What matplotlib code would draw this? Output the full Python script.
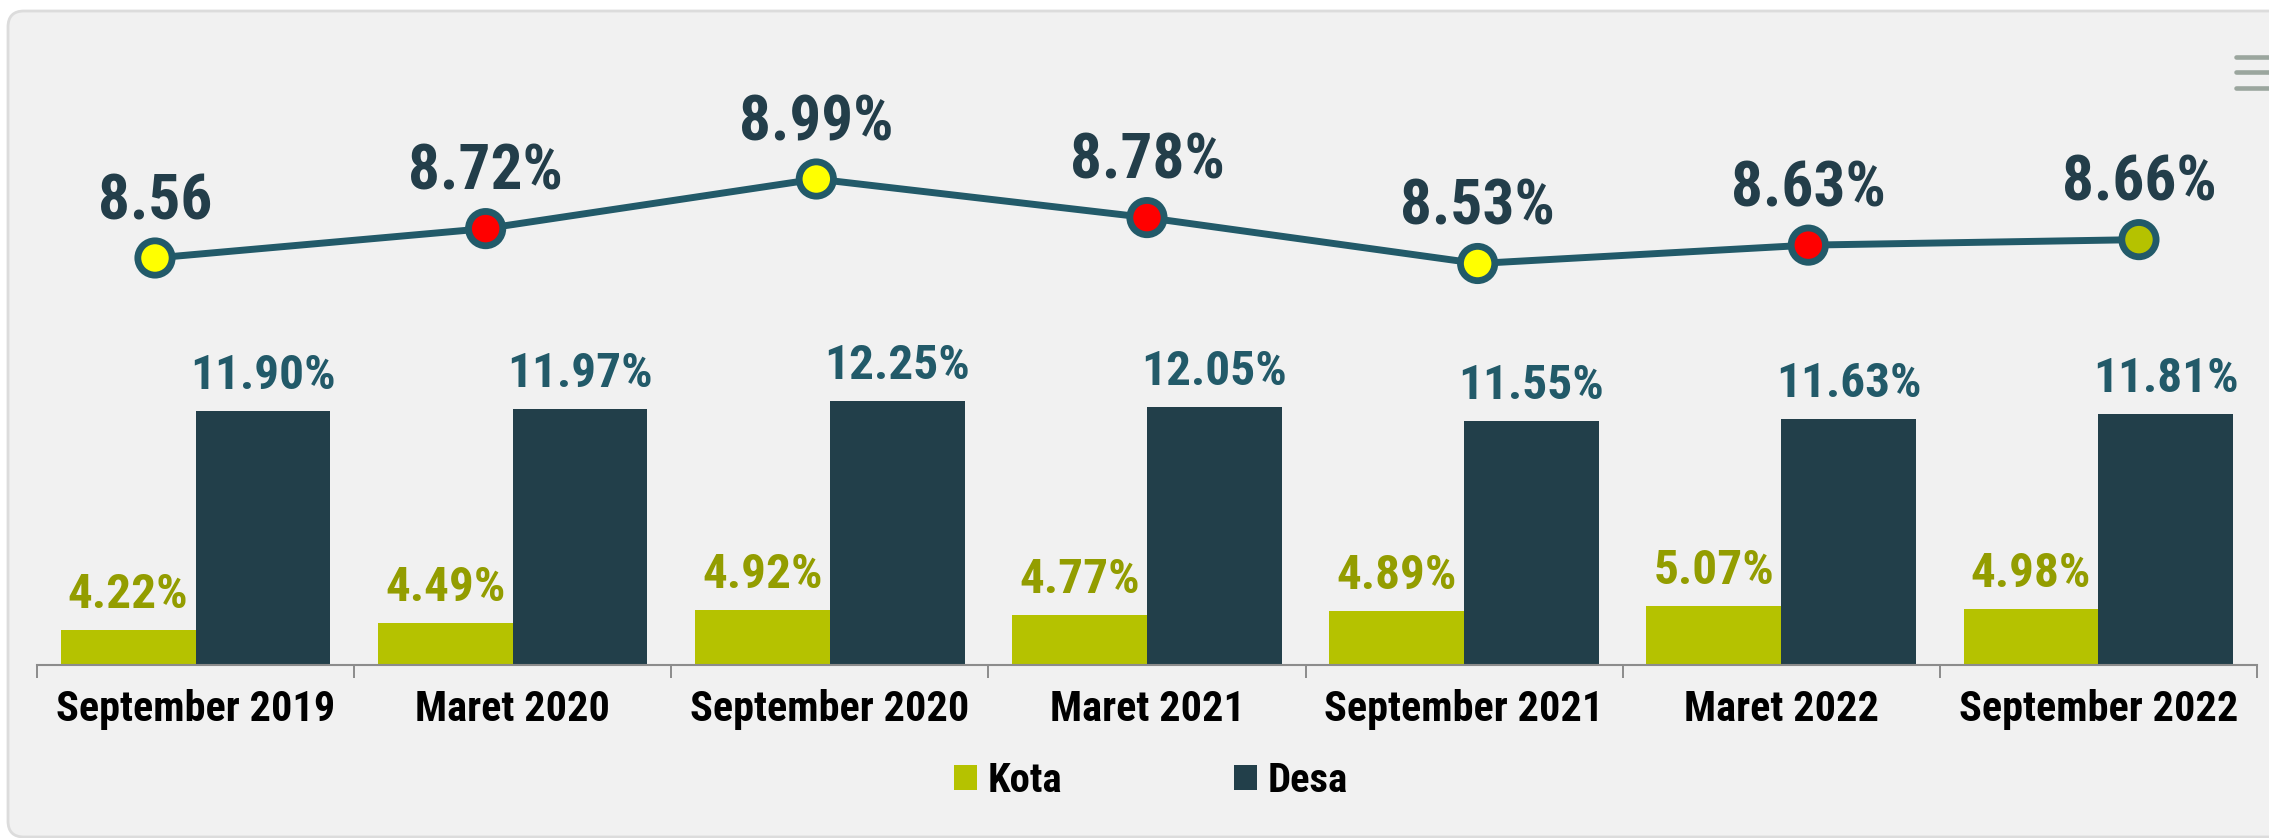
import os
import matplotlib
matplotlib.use("Agg")
import matplotlib.pyplot as plt
import matplotlib.transforms as mtransforms
from matplotlib import font_manager as fm
from matplotlib import ft2font
from matplotlib.patches import FancyBboxPatch, Patch
from matplotlib.lines import Line2D
import numpy as np

# ---- data ----
categories = ["September 2019", "Maret 2020", "September 2020", "Maret 2021",
              "September 2021", "Maret 2022", "September 2022"]
kota = [4.22, 4.49, 4.92, 4.77, 4.89, 5.07, 4.98]
desa = [11.90, 11.97, 12.25, 12.05, 11.55, 11.63, 11.81]
total = [8.56, 8.72, 8.99, 8.78, 8.53, 8.63, 8.66]
total_labels = ["8.56", "8.72%", "8.99%", "8.78%", "8.53%", "8.63%", "8.66%"]
series_names = ["Kota", "Desa"]


# ---- font: prefer a condensed bold sans ----
def pick_font():
    files = sorted({f.fname for f in fm.fontManager.ttflist})
    base = {p: os.path.basename(p).lower() for p in files}
    tests = [
        lambda b: "liberationsansnarrow-bold." in b,
        lambda b: "arialnarrow" in b and "bold" in b and "italic" not in b,
        lambda b: b.startswith("notosans-condensedbold."),
        lambda b: b.startswith("robotocondensed-bold."),
        lambda b: b.startswith("dejavusanscondensed-bold."),
        lambda b: b.startswith("opensans-condensedbold.") or b.startswith("opensanscondensed-bold."),
        lambda b: b.startswith("notosans-semicondensedbold."),
    ]
    for t in tests:
        for p in files:
            if t(base[p]):
                return p, True
    for p in files:
        if base[p] == "liberationsans-bold.ttf":
            return p, False
    return fm.findfont(fm.FontProperties(family="DejaVu Sans", weight="bold")), False


FONT_PATH, CONDENSED = pick_font()
_ft = ft2font.FT2Font(FONT_PATH)
_ft.set_size(1000, 72)
_ft.load_char(ord("H"))
CAP_RATIO = _ft.get_glyph(0).horiBearingY / 64 / 1000 if False else None
try:
    g = _ft.load_char(ord("H"))
    CAP_RATIO = g.horiBearingY / 64.0 / 1000.0
except Exception:
    CAP_RATIO = 0.716
if not (0.5 < CAP_RATIO < 0.85):
    CAP_RATIO = 0.716
SHRINK = 1.0 if CONDENSED else 0.9


def fp(cap_px):
    size_pt = cap_px / CAP_RATIO * 72 / 100 * SHRINK
    return fm.FontProperties(fname=FONT_PATH, size=size_pt)


# ---- style ----
C_KOTA = "#b5c200"
C_KOTA_LBL = "#939d00"
C_DESA = "#223f4a"
C_DESA_LBL = "#225a69"
C_LINE = "#225a69"
C_LINE_LBL = "#233e4a"
marker_fill = ["#ffff00", "#ff0000", "#ffff00", "#ff0000", "#ffff00", "#ff0000", "#b5c200"]

W, H = 2269, 838
fig = plt.figure(figsize=(W / 100, H / 100), dpi=100)
fig.patch.set_facecolor("white")
ident = mtransforms.IdentityTransform()

card = FancyBboxPatch((8, 1), 2300, 826, boxstyle="round,pad=0,rounding_size=16",
                      transform=ident, facecolor="#f1f1f1", edgecolor="#dcdcdc",
                      linewidth=2, zorder=0)
fig.add_artist(card)

for yy in [57, 72, 88]:
    fig.add_artist(Line2D([2236, 2280], [H - yy, H - yy], transform=ident,
                          color="#9ba69e", lw=3.3, solid_capstyle="round"))

# axes geometry (pixels)
left_px, right_px, top_px, base_px = 37, 2257, 60, 665
pos = [left_px / W, 1 - base_px / H, (right_px - left_px) / W, (base_px - top_px) / H]

ax = fig.add_axes(pos)
ax.set_facecolor("none")
x = np.arange(len(categories))
bw = 0.425
px_per_unit = 28.5
ax.set_xlim(-0.5, len(categories) - 0.5)
ax.set_ylim(3.0, 3.0 + (base_px - top_px) / px_per_unit)

ax.bar(x - bw / 2, kota, bw, color=C_KOTA, zorder=2)
ax.bar(x + bw / 2, desa, bw, color=C_DESA, zorder=2)

bar_fp = fp(35)
for xi, v in zip(x, kota):
    ax.annotate(f"{v:.2f}%", (xi - bw / 2, v), xytext=(0, 15.8), textcoords="offset points",
                ha="center", va="baseline", fontproperties=bar_fp, color=C_KOTA_LBL)
for xi, v in zip(x, desa):
    ax.annotate(f"{v:.2f}%", (xi + bw / 2, v), xytext=(0, 15.8), textcoords="offset points",
                ha="center", va="baseline", fontproperties=bar_fp, color=C_DESA_LBL)

for s in ["top", "left", "right"]:
    ax.spines[s].set_visible(False)
ax.spines["bottom"].set_color("#8c8c8c")
ax.spines["bottom"].set_linewidth(1.5)
ax.set_yticks([])
ax.set_xticks(np.arange(-0.5, len(categories), 1.0))
ax.set_xticklabels([])
ax.tick_params(axis="x", which="major", length=9.5, width=1.4, color="#8c8c8c", direction="out")
ax.set_xticks(x, minor=True)
ax.set_xticklabels(categories, minor=True)
ax.tick_params(axis="x", which="minor", length=0, pad=17, labelcolor="black")
tick_fp = fp(30)
for lbl in ax.get_xticklabels(minor=True):
    lbl.set_fontproperties(tick_fp)

# line series on its own axes
ax2 = fig.add_axes(pos)
ax2.set_axis_off()
ax2.set_xlim(-0.3568, 6.357)
ax2.set_ylim(6.344, 9.638)
ax2.plot(x, total, color=C_LINE, lw=5, zorder=3, solid_joinstyle="round")
ax2.scatter(x, total, s=24.7 ** 2, c=marker_fill, edgecolors=C_LINE, linewidths=4.9, zorder=4)
line_fp = fp(45)
for xi, v, lbl in zip(x, total, total_labels):
    ax2.annotate(lbl, (xi, v), xytext=(0, 28), textcoords="offset points",
                 ha="center", va="baseline", fontproperties=line_fp, color=C_LINE_LBL)

handles = [Patch(facecolor=C_KOTA), Patch(facecolor=C_DESA)]
leg_fp = fp(29)
fig.legend(handles, series_names, loc="center", bbox_to_anchor=(1151 / W, 1 - 781 / H),
           ncol=2, frameon=False, prop=leg_fp,
           handlelength=23 / (leg_fp.get_size_in_points() * 100 / 72),
           handleheight=23 / (leg_fp.get_size_in_points() * 100 / 72),
           handletextpad=0.275, columnspacing=4.2, borderpad=0, borderaxespad=0)

fig.savefig("out.png", dpi=100, facecolor="white")
